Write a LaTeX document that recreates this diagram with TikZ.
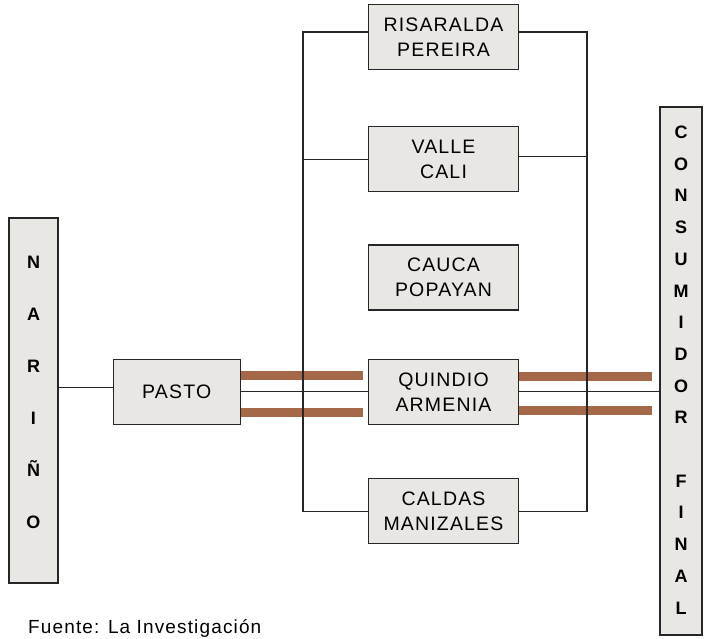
\documentclass[tikz,border=0pt]{standalone}
\usepackage{fontspec}
\setmainfont{Liberation Sans}
\newfontfamily\boxfont[LetterSpace=6]{Liberation Sans}
\usetikzlibrary{positioning}
\definecolor{boxgray}{HTML}{E9E7E3}
\definecolor{linegray}{HTML}{262626}
\definecolor{rope}{HTML}{A5694A}

\begin{document}
\begin{tikzpicture}[x=1pt, y=-1pt,
    region/.style={draw=linegray, line width=1.3pt, fill=boxgray, minimum width=150pt, minimum height=65pt, inner sep=0pt, align=center, font=\boxfont\fontsize{19.5}{25}\selectfont},
    column/.style={draw=linegray, line width=1.3pt, fill=boxgray, inner sep=0pt},
    letters/.style={align=center, inner sep=0pt, font=\bfseries\fontsize{18}{#1}\selectfont},
    link/.style={draw=linegray, line width=1.1pt},
    flow/.style={draw=rope, line width=9pt}]
    \useasboundingbox (0,0) rectangle (704,638);

    \node[region] (risaralda) at (443.5,37) {RISARALDA\\PEREIRA};
    \node[region, below=56pt of risaralda] (valle) {VALLE\\CALI};
    \node[region, below=52pt of valle] (cauca) {CAUCA\\POPAYAN};
    \node[region, below=48pt of cauca] (quindio) {QUINDIO\\ARMENIA};
    \node[region, below=53pt of quindio] (caldas) {CALDAS\\MANIZALES};
    \node[region, minimum width=127pt, left=127pt of quindio] (pasto) {PASTO};

    \node[column, minimum width=49pt, minimum height=365pt] (narino) at (33.5,400.5) {};
    \node[letters=52pt] (narinotext) at (33.5,392) {N\\A\\R\\I\\Ñ\\O};
    \node[column, minimum width=42pt, minimum height=528pt] (consumidor) at (681,371) {};
    \node[letters=31.7pt] (consumidortext) at (681,370) {C\\O\\N\\S\\U\\M\\I\\D\\O\\R\\[31.7pt]F\\I\\N\\A\\L};

    \node[anchor=base west, inner sep=0pt, font=\boxfont\fontsize{19}{23}\selectfont] (fuente) at (28,633) {Fuente: La Investigación};

    \coordinate (lbus) at (303,0);
    \coordinate (rbus) at (587,0);
    \coordinate (pu) at ([yshift=16.5pt]pasto.east);
    \coordinate (pd) at ([yshift=-20.5pt]pasto.east);
    \coordinate (qu) at ([yshift=15.5pt]quindio.east);
    \coordinate (qd) at ([yshift=-18.5pt]quindio.east);
    \coordinate (np) at ([yshift=4pt]pasto.west);

    \draw[flow] (pu) -- ([xshift=-5pt]quindio.west |- pu);
    \draw[flow] (pd) -- ([xshift=-5pt]quindio.west |- pd);
    \draw[flow] (qu) -- ([xshift=-7pt]consumidor.west |- qu);
    \draw[flow] (qd) -- ([xshift=-7pt]consumidor.west |- qd);

    \draw[link, line width=0.9pt] (np) -- (np -| narino.east);
    \draw[link, line width=0.9pt] (pasto.east) -- (pasto.east -| quindio.west);
    \draw[link, line width=0.9pt] (quindio.east) -- (quindio.east -| consumidor.west);

    \draw[link] ([yshift=5pt]risaralda.west) -| (lbus |- caldas.west) -- (caldas.west);
    \draw[link] ([yshift=5pt]risaralda.east) -| (rbus |- caldas.east) -- (caldas.east);
    \draw[link] (valle.west) -- (valle.west -| lbus);
    \draw[link] ([yshift=3pt]valle.east) -- ([yshift=3pt]valle.east -| rbus);
\end{tikzpicture}
\end{document}
